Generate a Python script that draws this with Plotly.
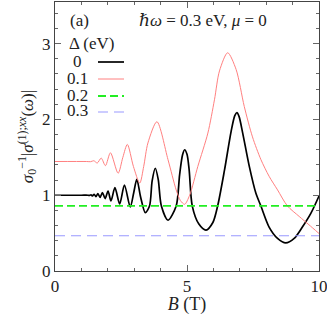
import plotly.graph_objects as go

# ---- data ----
B_black = [0, 1.0, 1.25, 1.311, 1.363, 1.42, 1.483, 1.55, 1.625, 1.706, 1.797, 1.898,
           2.01, 2.12, 2.27, 2.45, 2.63, 2.85, 2.98, 3.10, 3.24, 3.42, 3.58, 3.68, 3.80,
           3.91, 4.03, 4.28, 4.59, 4.72, 4.83, 4.91, 5.00, 5.08, 5.20, 5.45, 5.72, 5.98,
           6.16, 6.42, 6.67, 6.81, 6.89, 6.97, 7.11, 7.36, 7.61, 7.80, 8.11, 8.43, 8.74,
           9.06, 9.37, 9.69, 10.0]
S_black = [1.0, 1.0, 1.0, 0.997, 1.006, 0.99, 1.013, 0.982, 1.022, 0.97, 1.035, 0.955,
           1.055, 0.925, 1.10, 0.885, 1.135, 0.845, 1.03, 1.21, 0.98, 0.77, 0.857, 1.19, 1.356,
           1.21, 0.857, 0.67, 0.857, 1.27, 1.53, 1.60, 1.54, 1.34, 0.857, 0.62, 0.54, 0.64,
           0.857, 1.33, 1.84, 2.05, 2.09, 2.04, 1.82, 1.38, 1.025, 0.857, 0.58, 0.43, 0.37,
           0.43, 0.58, 0.76, 0.99]

B_red = [0, 1.2, 1.35, 1.47, 1.60, 1.75, 1.91, 2.10, 2.39, 2.57, 2.74, 2.97, 3.21, 3.36,
         3.52, 3.86, 4.28, 4.59, 4.75, 4.91, 5.10, 5.41, 5.79, 6.04, 6.23, 6.54, 6.86,
         7.17, 7.48, 7.80, 8.11, 8.43, 8.80, 9.25, 9.62, 10.0]
S_red = [1.445, 1.445, 1.443, 1.455, 1.425, 1.49, 1.39, 1.56, 1.29, 1.50, 1.67, 1.38,
         1.16, 1.38, 1.69, 1.97, 1.47, 1.07, 0.93, 0.88, 1.00, 1.38, 1.82, 2.26, 2.64, 2.88,
         2.66, 2.17, 1.77, 1.47, 1.25, 1.07, 0.86, 0.72, 0.61, 0.495]

B_green = [0, 10]
S_green = [0.86, 0.86]
B_blue = [0, 10]
S_blue = [0.465, 0.465]

DELTA_LABELS = ["0", "0.1", "0.2", "0.3"]
COLORS = ["#000000", "#ff8080", "#22ee22", "#9999ff"]
WIDTHS = [1.7, 1.0, 1.8, 1.0]
DASHES = ["solid", "solid", "8px,4px", "10px,6px"]

X_TICKS = [0, 5, 10]
Y_TICKS = [0, 1, 2, 3]

series = [(B_black, S_black), (B_red, S_red), (B_green, S_green), (B_blue, S_blue)]

FONT = "Liberation Serif, DejaVu Serif, serif"
fig = go.Figure()
for (bx, sy), lab, c, w, d in zip(series, DELTA_LABELS, COLORS, WIDTHS, DASHES):
    fig.add_trace(go.Scatter(
        x=bx, y=sy, mode="lines", name=lab, showlegend=False, hoverinfo="skip",
        line=dict(color=c, width=w, dash=d, shape="spline", smoothing=0.8),
    ))

W, H = 327, 315
L, R, T, Bm = 55, 8, 2, 44
pw, ph = W - L - R, H - T - Bm


def px(xp):
    return (xp - L) / pw


def py(yp):
    return (H - Bm - yp) / ph


axis_common = dict(
    showline=True, linecolor="#444", linewidth=1, mirror="allticks",
    ticks="inside", ticklen=6, tickcolor="#666", tickwidth=1,
    showgrid=False, zeroline=False, automargin=False,
    ticklabeloverflow="allow",
    tickfont=dict(family=FONT, size=17, color="#222"),
)

fig.update_layout(
    width=W, height=H,
    margin=dict(l=L, r=R, t=T, b=Bm, autoexpand=False),
    paper_bgcolor="white", plot_bgcolor="white",
    font=dict(family=FONT, color="#222"),
    xaxis=dict(range=[0, 10], tickvals=X_TICKS,
               minor=dict(dtick=1, ticks="inside", ticklen=3, tickcolor="#666"),
               title=dict(text="<i>B</i> (T)", font=dict(family=FONT, size=18), standoff=0),
               **axis_common),
    yaxis=dict(range=[0, 3.55], tickvals=Y_TICKS,
               minor=dict(dtick=0.2, ticks="inside", ticklen=3, tickcolor="#666"),
               title=dict(text="<i>σ</i><sub>0</sub><sup>−1</sup>|<i>σ</i><sup>(1);<i>xx</i></sup>(<i>ω</i>)|",
                          font=dict(family=FONT, size=17), standoff=4),
               **axis_common),
)


def note(xp, yp, text):
    fig.add_annotation(x=px(xp), y=py(yp), xref="paper", yref="paper", text=text,
                       xanchor="center", yanchor="middle", showarrow=False,
                       font=dict(family=FONT, size=17, color="#222"))


# header annotations
note(79, 20, "(a)")
note(203, 20, "<i>ℏω</i> = 0.3 eV, <i>μ</i> = 0")

# legend (text then line sample)
note(91, 43, "Δ (eV)")
rows = [61, 78, 95, 111]
for lab, c, w, d, r in zip(DELTA_LABELS, COLORS, WIDTHS, DASHES, rows):
    note(77, r, lab)
    fig.add_shape(type="line", xref="paper", yref="paper",
                  x0=px(98), x1=px(124), y0=py(r + 1), y1=py(r + 1),
                  line=dict(color=c, width=w, dash=d))

fig.write_html("out.html", config={"displayModeBar": False, "staticPlot": True},
               post_script="document.body.style.margin='0';document.body.style.padding='0';")
